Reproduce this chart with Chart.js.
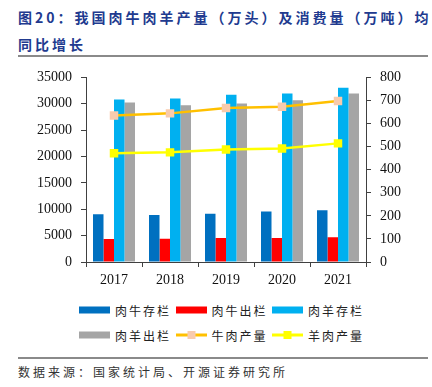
<!DOCTYPE html>
<html>
<head>
<meta charset="utf-8">
<script src="https://cdn.jsdelivr.net/npm/chart.js@4.4.0/dist/chart.umd.min.js"></script>
<style>
  html, body { margin: 0; padding: 0; background: #fff; }
  body { width: 432px; height: 387px; position: relative; overflow: hidden; font-family: "Noto Sans CJK SC", sans-serif; }
  #title { position: absolute; left: 18px; top: 4px; width: 414px; font-size: 14px; font-weight: bold; color: #213a8f; line-height: 27px; letter-spacing: 3px; }
  #rule1 { position: absolute; left: 18px; top: 55px; width: 410px; height: 2px; background: #8a8a8a; }
  #chartBox { position: absolute; left: 0; top: 60px; width: 432px; height: 230px; }
  .lgRow { position: absolute; left: 79px; height: 16px; display: flex; align-items: center; }
  .lgItem { display: flex; align-items: center; width: 96.5px; }
  .lgItem span { font-size: 12px; letter-spacing: 2px; color: #222; margin-left: 5px; white-space: nowrap; }
  #rule2 { position: absolute; left: 18px; top: 357px; width: 410px; height: 2px; background: #8a8a8a; }
  #source { position: absolute; left: 18px; top: 363px; font-size: 12px; letter-spacing: 3px; color: #333; line-height: 18px; }
</style>
</head>
<body>
<div id="title">图20：我国肉牛肉羊产量（万头）及消费量（万吨）均同比增长</div>
<div id="rule1"></div>
<div id="chartBox"><canvas id="c" width="432" height="230"></canvas></div>
<div class="lgRow" id="lg1" style="top:302px"></div>
<div class="lgRow" id="lg2" style="top:327px"></div>
<div id="rule2"></div>
<div id="source">数据来源：国家统计局、开源证券研究所</div>
<script>
const years = ["2017", "2018", "2019", "2020", "2021"];
const cattleStock = [9039, 8915, 9138, 9562, 9817];
const cattleSlaughter = [4340, 4397, 4534, 4565, 4707];
const sheepStock = [30798, 31010, 31699, 31941, 33045];
const sheepSlaughter = [30232, 29714, 30072, 30655, 31969];
const beefOutput = [634.6, 644.1, 667.3, 672.5, 698.0];
const muttonOutput = [471.1, 475.1, 487.5, 492.3, 514.1];
const leftTicks = [0, 5000, 10000, 15000, 20000, 25000, 30000, 35000];
const rightTicks = [0, 100, 200, 300, 400, 500, 600, 700, 800];

const names = ["肉牛存栏", "肉牛出栏", "肉羊存栏", "肉羊出栏", "牛肉产量", "羊肉产量"];
const barColors = ["#0070C0", "#FF0000", "#00B0F0", "#A5A5A5"];
const lineColors = ["#FFC000", "#FFFF00"];
const markerColors = ["#F8CBAD", "#FFFF00"];

const tickFont = { family: "'Liberation Serif', 'Times New Roman', serif", size: 14 };
const plain = v => String(v);

const chart = new Chart(document.getElementById("c"), {
  data: {
    labels: years,
    datasets: [
      { type: "bar", label: names[0], data: cattleStock, backgroundColor: barColors[0], yAxisID: "y", order: 2 },
      { type: "bar", label: names[1], data: cattleSlaughter, backgroundColor: barColors[1], yAxisID: "y", order: 2 },
      { type: "bar", label: names[2], data: sheepStock, backgroundColor: barColors[2], yAxisID: "y", order: 2 },
      { type: "bar", label: names[3], data: sheepSlaughter, backgroundColor: barColors[3], yAxisID: "y", order: 2 },
      { type: "line", label: names[4], data: beefOutput, borderColor: lineColors[0], borderWidth: 2.5,
        pointStyle: "rect", pointRadius: 6, pointBackgroundColor: markerColors[0], pointBorderColor: markerColors[0], pointBorderWidth: 0, yAxisID: "y1", order: 0 },
      { type: "line", label: names[5], data: muttonOutput, borderColor: lineColors[1], borderWidth: 2.5,
        pointStyle: "rect", pointRadius: 6, pointBackgroundColor: markerColors[1], pointBorderColor: markerColors[1], pointBorderWidth: 0, yAxisID: "y1", order: 0 }
    ]
  },
  options: {
    responsive: false,
    animation: false,
    datasets: { bar: { categoryPercentage: 0.75, barPercentage: 1.0 } },
    layout: { padding: { top: 16, left: 0, right: 0, bottom: 0 } },
    plugins: { legend: { display: false }, tooltip: { enabled: false } },
    scales: {
      x: {
        offset: true,
        grid: { display: true, drawOnChartArea: false, drawTicks: true, tickLength: 5, offset: true, color: "#404040" },
        border: { display: true, color: "#404040", width: 1 },
        ticks: { font: tickFont, color: "#111", padding: 5, maxRotation: 0 },
        afterFit(s) { s.height = 28; }
      },
      y: {
        position: "left",
        min: 0, max: 35000,
        afterBuildTicks(s) { s.ticks = leftTicks.map(v => ({ value: v })); },
        grid: { display: true, drawOnChartArea: false, drawTicks: true, tickLength: 5, color: "#404040" },
        border: { display: true, color: "#404040", width: 1 },
        ticks: { font: tickFont, color: "#111", padding: 9, callback: plain },
        afterFit(s) { s.width = 86; }
      },
      y1: {
        position: "right",
        min: 0, max: 800,
        afterBuildTicks(s) { s.ticks = rightTicks.map(v => ({ value: v })); },
        grid: { display: true, drawOnChartArea: false, drawTicks: true, tickLength: 5, color: "#404040" },
        border: { display: true, color: "#404040", width: 1 },
        ticks: { font: tickFont, color: "#111", padding: 9, callback: plain },
        afterFit(s) { s.width = 66; }
      }
    }
  }
});

// HTML legend built from the datasets
function symbolFor(i) {
  const cv = document.createElement("canvas");
  cv.width = 31; cv.height = 12;
  const g = cv.getContext("2d");
  if (i < 4) {
    g.fillStyle = barColors[i];
    g.fillRect(0, 2.5, 31, 7);
  } else {
    const k = i - 4;
    g.strokeStyle = lineColors[k]; g.lineWidth = 3;
    g.beginPath(); g.moveTo(0, 6); g.lineTo(31, 6); g.stroke();
    g.fillStyle = markerColors[k];
    g.fillRect(11.5, 2, 8, 8);
  }
  return cv;
}
names.forEach((n, i) => {
  const item = document.createElement("div");
  item.className = "lgItem";
  item.appendChild(symbolFor(i));
  const sp = document.createElement("span");
  sp.textContent = n;
  item.appendChild(sp);
  document.getElementById(i < 3 ? "lg1" : "lg2").appendChild(item);
});
</script>
</body>
</html>
